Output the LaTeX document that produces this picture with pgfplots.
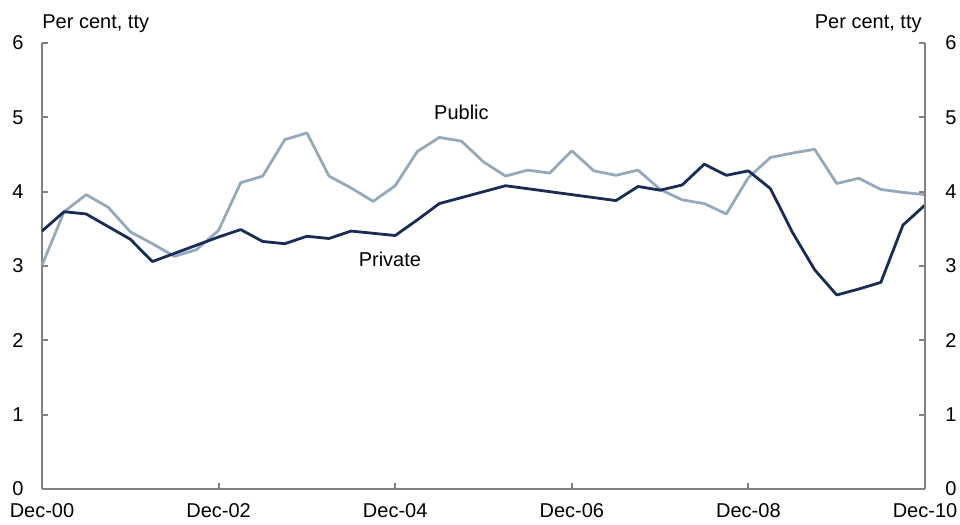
\documentclass[border=0pt]{standalone}
\usepackage{fontspec}
\setmainfont{Liberation Sans}
\usepackage{pgfplots}
\usepackage{pgfplotstable}
\pgfplotsset{compat=1.18}

\definecolor{privateblue}{RGB}{24,44,86}
\definecolor{publicgrey}{RGB}{150,169,186}
\definecolor{axisgrey}{RGB}{128,128,128}

% quarterly, Dec-00 = 0 ... Dec-10 = 40
\pgfplotstableread{
q  private public
0  3.47 3.01
1  3.73 3.73
2  3.70 3.96
3  3.53 3.79
4  3.36 3.46
5  3.06 3.30
6  3.17 3.13
7  3.28 3.22
8  3.39 3.48
9  3.49 4.12
10 3.33 4.21
11 3.30 4.70
12 3.40 4.79
13 3.37 4.21
14 3.47 4.05
15 3.44 3.87
16 3.41 4.08
17 3.62 4.54
18 3.84 4.73
19 3.92 4.68
20 4.00 4.40
21 4.08 4.21
22 4.04 4.29
23 4.00 4.25
24 3.96 4.55
25 3.92 4.28
26 3.88 4.22
27 4.07 4.29
28 4.02 4.03
29 4.09 3.89
30 4.37 3.84
31 4.22 3.70
32 4.28 4.19
33 4.04 4.46
34 3.45 4.52
35 2.95 4.57
36 2.61 4.11
37 2.69 4.18
38 2.78 4.03
39 3.55 3.99
40 3.82 3.96
}\wages

\pgfplotsset{
    base/.style={
        scale only axis,
        width=441.5pt,
        height=223pt,
        xmin=0, xmax=40,
        ymin=0, ymax=6,
        ytick={0,1,...,6},
        tick align=inside,
        major tick length=3pt,
        every tick/.style={axisgrey, line width=1pt},
        axis line style={axisgrey, line width=1pt},
        tick label style={font=\fontsize{10}{12}\selectfont},
        /pgf/number format/assume math mode=true,
    }
}

\begin{document}
\begin{tikzpicture}
\begin{axis}[
    base,
    name=main,
    at={(0,0)}, anchor=south west,
    axis y line*=left,
    axis x line*=bottom,
    xtick={0,8,...,40},
    xticklabels={Dec-00,Dec-02,Dec-04,Dec-06,Dec-08,Dec-10},
    yticklabel style={anchor=east, inner sep=0pt, xshift=-9pt},
    xticklabel style={anchor=north, inner sep=0pt, yshift=-7pt},
    clip=false,
]
\addplot[publicgrey, line width=1.4pt, line join=round] table[x=q, y=public] {\wages};
\addplot[privateblue, line width=1.4pt, line join=round] table[x=q, y=private] {\wages};
\node[font=\fontsize{10}{12}\selectfont] at (axis cs:19,5.07) {Public};
\node[font=\fontsize{10}{12}\selectfont] at (axis cs:15.76,3.09) {Private};
\node[font=\fontsize{10}{12}\selectfont, anchor=base west, inner sep=0pt]
    at ([yshift=7.5pt]rel axis cs:0,1) {Per cent, tty};
\node[font=\fontsize{10}{12}\selectfont, anchor=base east, inner sep=0pt]
    at ([yshift=7.5pt, xshift=-1.5pt]rel axis cs:1,1) {Per cent, tty};
\end{axis}
\begin{axis}[
    base,
    at={(0,0)}, anchor=south west,
    axis y line*=right,
    axis x line=none,
    yticklabel style={anchor=west, inner sep=0pt, xshift=10pt},
]
\end{axis}
\pgfresetboundingbox
\useasboundingbox ([shift={(-21pt,-17.5pt)}]main.south west) rectangle ([shift={(17.5pt,21.5pt)}]main.north east);
\end{tikzpicture}
\end{document}
